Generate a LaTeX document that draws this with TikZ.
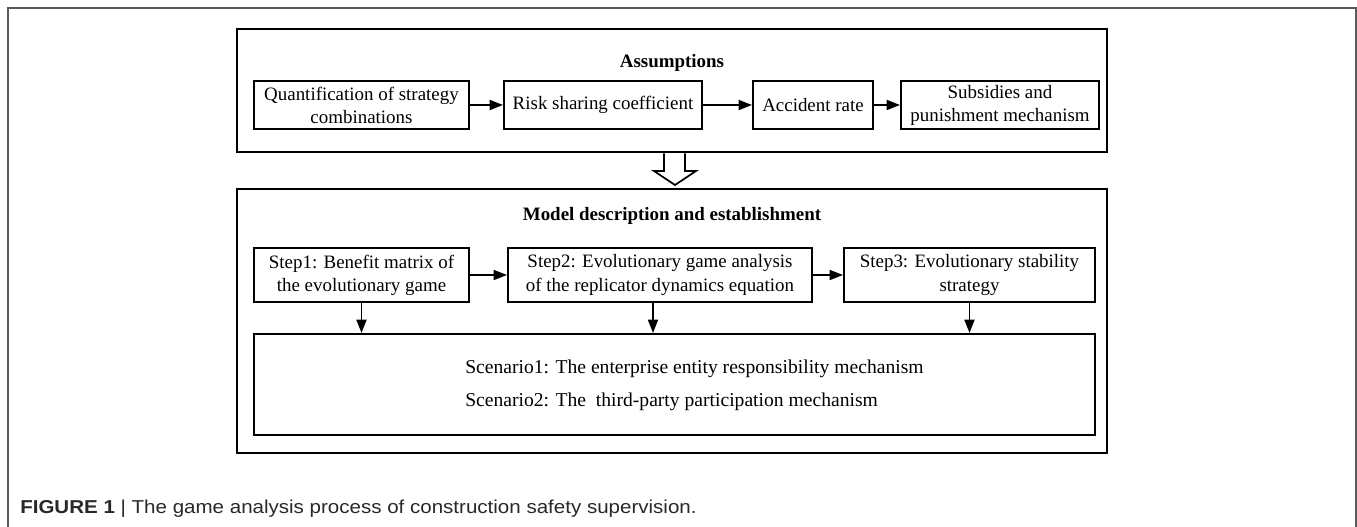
\documentclass[tikz,border=0pt]{standalone}
\usepackage{fontspec}
\setmainfont{Liberation Serif}
\newfontfamily\capfont[FakeStretch=1.1]{Liberation Sans}
\usetikzlibrary{arrows.meta,calc}
\definecolor{framegray}{RGB}{90,90,90}
\definecolor{captext}{RGB}{40,40,40}
\begin{document}
\begin{tikzpicture}[x=0.75pt,y=-0.75pt,
  txt/.style={font=\fontsize{14.2}{17.3}\selectfont},
  sctxt/.style={font=\fontsize{14.7}{17.6}\selectfont},
  outerbox/.style={draw=black,line width=2pt,inner sep=0pt},
  stepbox/.style={draw=black,line width=1.5pt,inner sep=0pt,align=center,txt},
  flow/.style={line width=1.3pt,-{Triangle[length=10pt,width=7.5pt]}},
  titletxt/.style={font=\fontsize{14.2}{17}\selectfont\bfseries}]
\useasboundingbox (0,0) rectangle (1357,527);
% page frame
\draw[framegray,line width=1.1pt] (8,527) -- (8,8) -- (1356,8) -- (1356,527);

% assumptions group
\node[outerbox,minimum width=652.5pt,minimum height=92.25pt] (agrp) at (672,90.5) {};
\node[titletxt] (atitle) at (672,63) {Assumptions};
\node[stepbox,minimum width=161.25pt,minimum height=36pt] (a1) at (361.5,105) {Quantification of strategy\\combinations};
\node[stepbox,minimum width=148.5pt,minimum height=36pt] (a2) at (603,105) {Risk sharing coefficient};
\node[stepbox,minimum width=90pt,minimum height=36pt] (a3) at (813,105) {Accident rate};
\node[stepbox,minimum width=148.5pt,minimum height=36pt] (a4) at (1000,105) {Subsidies and\\punishment mechanism};
\draw[flow] (a1) -- (a2);
\draw[flow] (a2) -- (a3);
\draw[flow] (a3) -- (a4);

% model group
\node[outerbox,minimum width=652.5pt,minimum height=198pt] (mgrp) at (672,321) {};
\node[titletxt] (mtitle) at (672,216) {Model description and establishment};
\node[stepbox,minimum width=161.25pt,minimum height=40.5pt] (s1) at (361.5,275) {Step1: Benefit matrix of\\the evolutionary game};
\node[stepbox,minimum width=228pt,minimum height=40.5pt] (s2) at (660,275) {Step2: Evolutionary game analysis\\of the replicator dynamics equation};
\node[stepbox,minimum width=188.25pt,minimum height=40.5pt] (s3) at (969.5,275) {Step3: Evolutionary stability\\strategy};
\node[stepbox,minimum width=630.75pt,minimum height=75.75pt] (sc) at (674.5,384.5) {};
\node[sctxt,anchor=west,inner sep=0pt] (sc1) at (465,369) {Scenario1: The enterprise entity responsibility mechanism};
\node[sctxt,anchor=west,inner sep=0pt] (sc2) at (465,402) {Scenario2: The~~third-party participation mechanism};
\draw[flow] (s1) -- (s2);
\draw[flow] (s2) -- (s3);
\draw[flow] (s1.south) -- (s1.south |- sc.north);
\coordinate (s2b) at ($(s2.south)+(-7,0)$);
\draw[flow] (s2b) -- (s2b |- sc.north);
\draw[flow] (s3.south) -- (s3.south |- sc.north);

% hollow arrow between groups
\draw[line width=1.3pt,line join=miter] (agrp.south -| 664,0) -- (664,171) -- (654,171) -- (675,185) -- (696,171) -- (685,171) -- (agrp.south -| 685,0);

% caption
\node[anchor=west,inner sep=0pt,font=\capfont\fontsize{14}{16}\selectfont,text=captext] (cap) at (20,509) {\textbf{FIGURE 1} | The game analysis process of construction safety supervision.};
\end{tikzpicture}
\end{document}
